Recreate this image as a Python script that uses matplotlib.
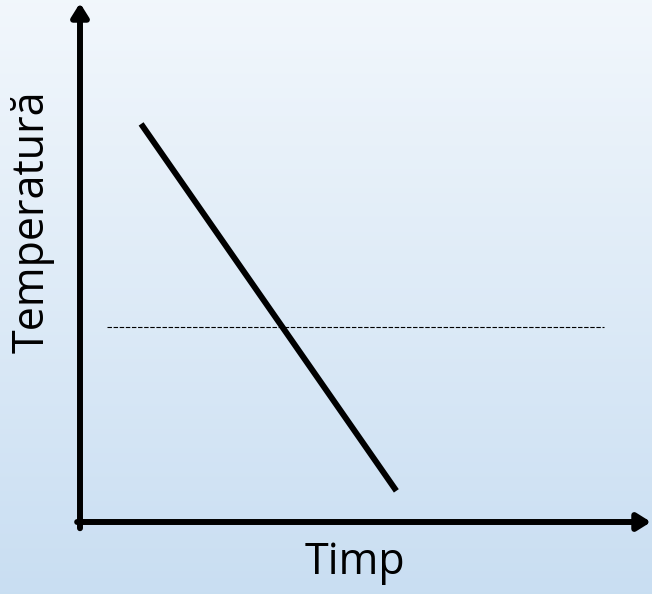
import numpy as np
import matplotlib.pyplot as plt

# cooling curve sketch: temperature falls linearly with time
time = [1.07, 5.54]
temperature = [7.67, 0.60]
reference_temp = 3.76
reference_span = [0.47, 9.18]

x_label = "Timp"
y_label = "Temperatură"

plt.rcParams["font.family"] = ["Open Sans", "DejaVu Sans"]

fig = plt.figure(figsize=(6.52, 5.94), dpi=100)

# background gradient
bg = fig.add_axes([0, 0, 1, 1], zorder=0)
grad = np.linspace(0, 1, 256).reshape(-1, 1)
top = np.array([0.949, 0.969, 0.988])
bottom = np.array([0.788, 0.871, 0.949])
img = top + (bottom - top) * grad[:, :, None]
bg.imshow(img, aspect="auto", extent=[0, 1, 0, 1], origin="upper")
bg.axis("off")

ax = fig.add_axes([80 / 652, 72 / 594, 571 / 652, 519 / 594], zorder=1)
ax.patch.set_alpha(0)
ax.set_xlim(0, 10)
ax.set_ylim(0, 10)
for s in ax.spines.values():
    s.set_visible(False)
ax.set_xticks([])
ax.set_yticks([])

arrow = dict(arrowstyle="-|>,head_length=0.8,head_width=0.5", lw=4.3, color="black",
             shrinkA=0, shrinkB=0)
ax.annotate("", xy=(1.0, 0), xytext=(-0.005, 0), xycoords="axes fraction",
            arrowprops=arrow, annotation_clip=False)
ax.annotate("", xy=(0, 1.0), xytext=(0, -0.012), xycoords="axes fraction",
            arrowprops=arrow, annotation_clip=False)

ax.plot(time, temperature, color="black", lw=4.3, solid_capstyle="butt")
ax.plot(reference_span, [reference_temp, reference_temp], color="black", lw=0.8,
        linestyle=(0, (4, 1.5)))

fig.text(355 / 652, 1 - 563 / 594, x_label, ha="center", va="center", fontsize=31)
fig.text(32 / 652, 1 - 222 / 594, y_label, ha="center", va="center", fontsize=31,
         rotation=90)

fig.savefig("out.png", dpi=100)
